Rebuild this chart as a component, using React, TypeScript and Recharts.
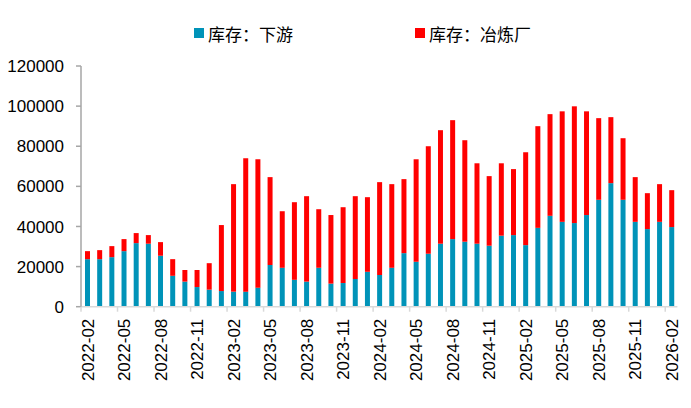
import React from "react";
import { BarChart, Bar, XAxis, YAxis, Legend } from "recharts";

const months = [
  "2022-02", "2022-03", "2022-04", "2022-05", "2022-06", "2022-07", "2022-08",
  "2022-09", "2022-10", "2022-11", "2022-12", "2023-01", "2023-02", "2023-03",
  "2023-04", "2023-05", "2023-06", "2023-07", "2023-08", "2023-09", "2023-10",
  "2023-11", "2023-12", "2024-01", "2024-02", "2024-03", "2024-04", "2024-05",
  "2024-06", "2024-07", "2024-08", "2024-09", "2024-10", "2024-11", "2024-12",
  "2025-01", "2025-02", "2025-03", "2025-04", "2025-05", "2025-06", "2025-07",
  "2025-08", "2025-09", "2025-10", "2025-11", "2025-12", "2026-01", "2026-02",
];

const downstream = [
  23700, 23700, 24700, 27700, 31700, 31400, 25400, 15400, 12500, 9800, 8500,
  7800, 7500, 7500, 9500, 20800, 19400, 13400, 12500, 19400, 11500, 11800,
  13800, 17400, 15800, 19400, 26700, 22400, 26400, 31400, 33700, 32400, 31400,
  30400, 35400, 35700, 30700, 39300, 45300, 42300, 41700, 45700, 53300, 61600,
  53300, 42300, 38700, 42300, 39700,
];

const smelter = [
  4000, 4500, 5500, 6000, 5000, 4300, 6800, 8300, 5800, 8500, 13200, 32900,
  53600, 66500, 64000, 43800, 28200, 38700, 42600, 29200, 34200, 37800, 41300,
  37200, 46300, 41700, 36900, 51100, 53600, 56600, 59300, 50600, 40100, 34700,
  36100, 32900, 46300, 50700, 50700, 55100, 58200, 51700, 40700, 32900, 30700,
  22300, 17900, 18800, 18400,
];

const yTicks = [0, 20000, 40000, 60000, 80000, 100000, 120000];

const seriesNames = ["库存：下游", "库存：冶炼厂"];
const seriesColors = ["#0093B8", "#FF0000"];

const data = months.map((m, i) => ({
  month: m,
  downstream: downstream[i],
  smelter: smelter[i],
}));

const W = 691;
const H = 408;
const PLOT_LEFT = 81;
const PLOT_RIGHT = 677.4;
const BAND = (PLOT_RIGHT - PLOT_LEFT) / months.length;

const MonthTick = (props: any) => {
  const { x, y, payload } = props;
  return (
    <g transform={`translate(${x},${y})`}>
      <line x1={-BAND / 2} x2={-BAND / 2} y1={0} y2={5} stroke="#D9D9D9" strokeWidth={1.5} />
      <text
        transform="rotate(-90)"
        x={-12}
        y={1}
        textAnchor="end"
        dominantBaseline="central"
        fontSize={17}
        fill="#000"
        fontFamily="'Liberation Sans', Arial, sans-serif"
      >
        {payload.value}
      </text>
    </g>
  );
};

const legendLeft = [194, 415];

const renderLegend = () => (
  <div style={{ position: "relative", height: 24, width: W }}>
    {seriesNames.map((name, i) => (
      <div
        key={name}
        style={{
          position: "absolute",
          left: legendLeft[i],
          top: 0,
          height: 24,
          display: "flex",
          alignItems: "center",
          fontFamily: "'Noto Sans CJK SC', sans-serif",
          fontSize: 17,
          color: "#000",
          whiteSpace: "nowrap",
        }}
      >
        <span
          style={{
            display: "inline-block",
            width: 10,
            height: 10,
            background: seriesColors[i],
            marginRight: 4,
          }}
        />
        {name}
      </div>
    ))}
  </div>
);

export default function App() {
  return (
    <div style={{ position: "absolute", left: 0, top: 0, width: W, height: H, background: "#fff" }}>
      <BarChart
        width={W}
        height={H}
        data={data}
        margin={{ top: 42, right: W - PLOT_RIGHT, left: 0, bottom: 11.3 }}
        barSize={5}
      >
        <Legend
          verticalAlign="top"
          align="left"
          content={renderLegend}
          wrapperStyle={{ top: 21, left: 0, width: W, height: 24 }}
        />
        <XAxis
          dataKey="month"
          interval={2}
          height={90}
          tickSize={0}
          tickMargin={0}
          tickLine={false}
          axisLine={{ stroke: "#D9D9D9", strokeWidth: 1.5 }}
          tick={<MonthTick />}
        />
        <YAxis
          width={PLOT_LEFT}
          domain={[0, 120000]}
          ticks={yTicks}
          interval={0}
          tickSize={5}
          tickMargin={12}
          axisLine={{ stroke: "#A6A6A6", strokeWidth: 1.5 }}
          tickLine={{ stroke: "#A6A6A6", strokeWidth: 1.5 }}
          tick={{ fontSize: 17, fill: "#000", fontFamily: "'Liberation Sans', Arial, sans-serif" }}
        />
        <Bar dataKey="downstream" name={seriesNames[0]} stackId="a" fill={seriesColors[0]} isAnimationActive={false} />
        <Bar dataKey="smelter" name={seriesNames[1]} stackId="a" fill={seriesColors[1]} isAnimationActive={false} />
      </BarChart>
    </div>
  );
}
